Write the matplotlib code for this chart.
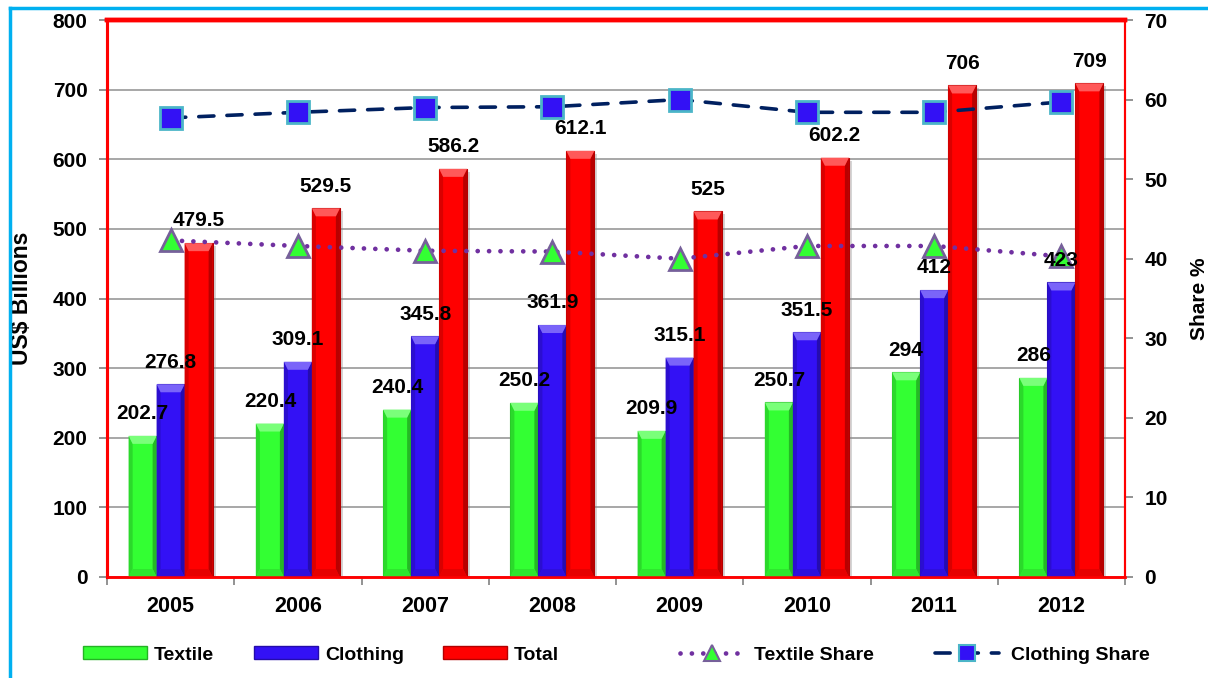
import numpy as np
import matplotlib
matplotlib.use('Agg')
import matplotlib.pyplot as plt
from matplotlib.patches import Polygon, Rectangle, Patch
from matplotlib.lines import Line2D
from matplotlib.colors import to_rgb

YEARS = ['2005', '2006', '2007', '2008', '2009', '2010', '2011', '2012']
TEXTILE = [202.7, 220.4, 240.4, 250.2, 209.9, 250.7, 294, 286]
CLOTHING = [276.8, 309.1, 345.8, 361.9, 315.1, 351.5, 412, 423]
TOTAL = [479.5, 529.5, 586.2, 612.1, 525, 602.2, 706, 709]
TEXTILE_LABELS = ['202.7', '220.4', '240.4', '250.2', '209.9', '250.7', '294', '286']
CLOTHING_LABELS = ['276.8', '309.1', '345.8', '361.9', '315.1', '351.5', '412', '423']
TOTAL_LABELS = ['479.5', '529.5', '586.2', '612.1', '525', '602.2', '706', '709']
TEXTILE_SHARE = [42.3, 41.6, 41.0, 40.9, 40.0, 41.6, 41.6, 40.3]
CLOTHING_SHARE = [57.7, 58.4, 59.0, 59.1, 60.0, 58.4, 58.4, 59.7]

GREEN = '#33FF33'
BLUE = '#3311F5'
RED = '#FF0000'
PURPLE = '#7030A0'
NAVY = '#002060'

FIG_W, FIG_H = 1208, 678
BAR_W = 0.22

plt.rcParams['font.family'] = ['Liberation Sans', 'DejaVu Sans']
plt.rcParams['font.weight'] = 'bold'


def shade(color, f):
    r, g, b = to_rgb(color)
    return (r * f, g * f, b * f)


def tint(color, f):
    r, g, b = to_rgb(color)
    return (r + (1 - r) * f, g + (1 - g) * f, b + (1 - b) * f)


def beveled_bar(ax, x, h, color, px_x, px_y):
    # plain bar plus a picture-frame bevel built from polygons
    x0 = x - BAR_W / 2
    x1 = x + BAR_W / 2
    bx = 4 * px_x
    by = 8 * px_y
    ax.add_patch(Rectangle((x0 + 3 * px_x, -3 * px_y), BAR_W, h, color='#888888',
                           alpha=0.35, lw=0, zorder=2))
    ax.add_patch(Rectangle((x0, 0), BAR_W, h, facecolor=color,
                           edgecolor=shade(color, 0.7), lw=0.8, zorder=3))
    ax.add_patch(Polygon([(x0, 0), (x0 + bx, by), (x0 + bx, h - by), (x0, h)],
                         closed=True, facecolor=shade(color, 0.85), lw=0, zorder=3))
    ax.add_patch(Polygon([(x1, 0), (x1 - bx, by), (x1 - bx, h - by), (x1, h)],
                         closed=True, facecolor=shade(color, 0.72), lw=0, zorder=3))
    ax.add_patch(Polygon([(x0, h), (x1, h), (x1 - bx, h - by), (x0 + bx, h - by)],
                         closed=True, facecolor=tint(color, 0.35), lw=0, zorder=3))
    ax.add_patch(Polygon([(x0, 0), (x1, 0), (x1 - bx, by), (x0 + bx, by)],
                         closed=True, facecolor=shade(color, 0.9), lw=0, zorder=3))


fig = plt.figure(figsize=(FIG_W / 100, FIG_H / 100), dpi=100)
left, right = 107 / FIG_W, 1125 / FIG_W
bottom, top = 1 - 577 / FIG_H, 1 - 20 / FIG_H
fig.subplots_adjust(left=left, right=right, bottom=bottom, top=top)
ax = fig.add_subplot(111)
ax2 = ax.twinx()

n = len(YEARS)
xs = np.arange(n)
ax.set_xlim(-0.5, n - 0.5)
ax.set_ylim(0, 800)
ax2.set_ylim(0, 70)

ax_w_px = (right - left) * FIG_W
ax_h_px = (top - bottom) * FIG_H
px_x = n / ax_w_px
px_y = 800 / ax_h_px

for i in range(n):
    beveled_bar(ax, xs[i] - BAR_W, TEXTILE[i], GREEN, px_x, px_y)
    beveled_bar(ax, xs[i], CLOTHING[i], BLUE, px_x, px_y)
    beveled_bar(ax, xs[i] + BAR_W, TOTAL[i], RED, px_x, px_y)

# grid and axes styling
ax.set_yticks(np.arange(0, 801, 100))
ax.grid(axis='y', color='#A0A0A0', lw=1.3, zorder=0)
ax.set_axisbelow(True)
ax.set_xticks(np.arange(-0.5, n, 1.0))
ax.set_xticklabels([])
ax.set_xticks(xs, minor=True)
ax.set_xticklabels(YEARS, minor=True)
ax.tick_params(axis='x', which='major', length=6, width=1.2, color='#808080', direction='out')
ax.tick_params(axis='x', which='minor', length=0, pad=14, labelsize=15.5)
ax.tick_params(axis='y', length=6, width=1.2, color='#808080', pad=8, labelsize=15)
ax2.set_yticks(np.arange(0, 71, 10))
ax2.tick_params(axis='y', length=6, width=1.2, color='#808080', pad=8, labelsize=15)

ax.set_ylabel('US$ Billions', fontsize=16.5, fontweight='bold')
ax.yaxis.set_label_coords((33 - 107) / ax_w_px, 0.5)
ax2.set_ylabel('Share %', fontsize=15, fontweight='bold')
ax2.yaxis.set_label_coords(1 + (1190 - 1125) / ax_w_px, 0.5)

for a in (ax, ax2):
    for s in a.spines.values():
        s.set_color(RED)
    a.spines['top'].set_linewidth(3.2)
    a.spines['left'].set_linewidth(2.2)
    a.spines['bottom'].set_linewidth(1.8)
    a.spines['right'].set_linewidth(1.5)

# share lines
ax2.plot(xs, TEXTILE_SHARE, color=PURPLE, lw=3.4, linestyle=(0, (0.01, 2.4)),
         dash_capstyle='round', marker='^', markersize=16.5, markerfacecolor=GREEN,
         markeredgecolor='#76609A', markeredgewidth=2, zorder=5)
ax2.plot(xs, CLOTHING_SHARE, color=NAVY, lw=2.6, linestyle=(0, (4.2, 3.6)),
         dash_capstyle='round', marker='s', markersize=16.5, markerfacecolor=BLUE,
         markeredgecolor='#4BB5C8', markeredgewidth=2, zorder=5)

# value labels
for series, labels, off in ((TEXTILE, TEXTILE_LABELS, -BAR_W),
                            (CLOTHING, CLOTHING_LABELS, 0.0),
                            (TOTAL, TOTAL_LABELS, BAR_W)):
    for i in range(n):
        ax2.annotate(labels[i], xy=(xs[i] + off, series[i]), xycoords=ax.transData,
                     xytext=(0, 16), textcoords='offset points', ha='center',
                     va='center', fontsize=15, fontweight='bold', zorder=10)

# legend, one entry at a time so each sits where it should
entries = [
    (Patch(facecolor=GREEN, edgecolor=shade(GREEN, 0.7)), 'Textile', 83, 0.35),
    (Patch(facecolor=BLUE, edgecolor=shade(BLUE, 0.7)), 'Clothing', 254, 0.35),
    (Patch(facecolor=RED, edgecolor=shade(RED, 0.7)), 'Total', 443, 0.35),
    (Line2D([], [], color=PURPLE, lw=3.4, linestyle=(0, (0.01, 2.4)), dash_capstyle='round',
            marker='^', markersize=12, markerfacecolor=GREEN, markeredgecolor='#76609A',
            markeredgewidth=1.5), 'Textile Share', 680, 0.5),
    (Line2D([], [], color=NAVY, lw=2.6, linestyle=(0, (4.2, 3.6)), dash_capstyle='round',
            marker='s', markersize=11, markerfacecolor=BLUE, markeredgecolor='#4BB5C8',
            markeredgewidth=1.5), 'Clothing Share', 935, 0.6),
]
for handle, label, xpx, tpad in entries:
    fig.legend(handles=[handle], labels=[label], loc='center left',
               bbox_to_anchor=(xpx / FIG_W, 1 - 655 / FIG_H), frameon=False,
               borderpad=0, borderaxespad=0, handlelength=3.3, handleheight=0.65,
               handletextpad=tpad, prop={'size': 14, 'weight': 'bold'})

# cyan frame on the left and top edges
fig.add_artist(Line2D([10 / FIG_W, 10 / FIG_W], [0, 1 - 8 / FIG_H], color='#00B0F0',
                      lw=2.5, transform=fig.transFigure))
fig.add_artist(Line2D([10 / FIG_W, 1], [1 - 8 / FIG_H, 1 - 8 / FIG_H], color='#00B0F0',
                      lw=2.5, transform=fig.transFigure))

fig.savefig('out.png', dpi=100)
